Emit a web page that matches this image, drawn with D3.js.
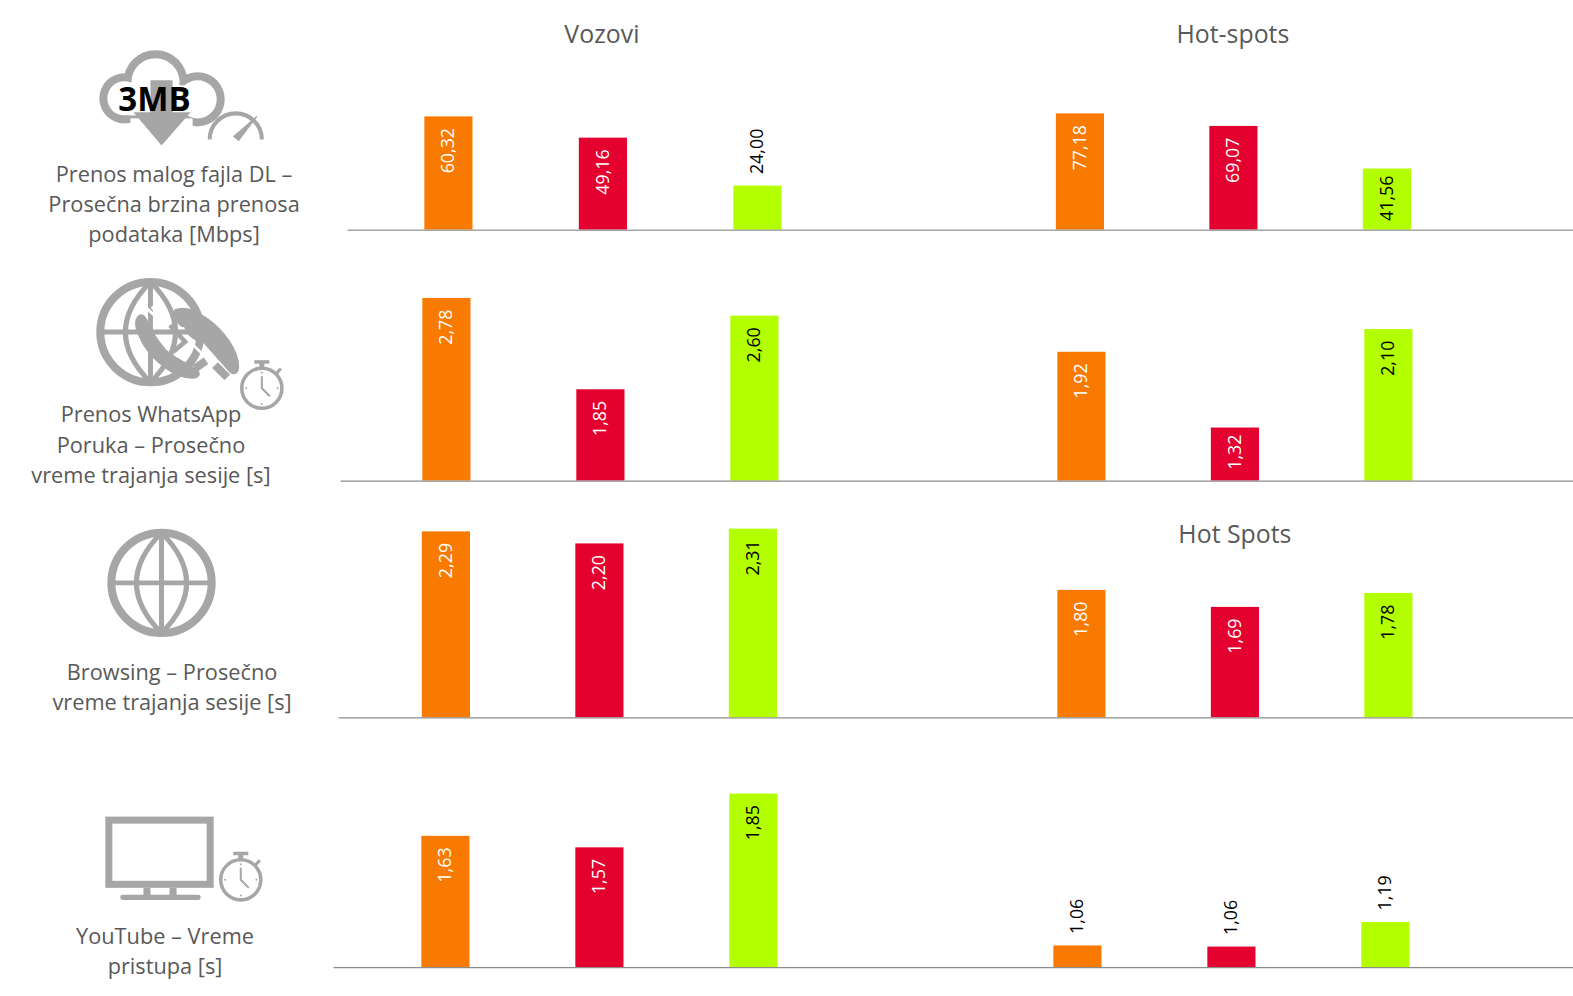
<!DOCTYPE html>
<html>
<head>
<meta charset="utf-8">
<script src="https://cdn.jsdelivr.net/npm/d3@7"></script>
<style>
  html, body { margin: 0; background: #fff; }
  svg { display: block; }
  text { font-family: "Open Sans", sans-serif; }
</style>
</head>
<body>
<svg id="chart" width="1573" height="996" viewBox="0 0 1568 992.8"></svg>
<script>
// values per panel: vozovi then hot-spots
const operators = ['orange', 'red', 'green'];
const operatorColors = ['#f97a00', '#e4002f', '#b3ff00'];
const labelColors = ['#fff', '#fff', '#000'];

const downloadVozovi = [60.32, 49.16, 24.00];
const downloadHotspots = [77.18, 69.07, 41.56];
const whatsappVozovi = [2.78, 1.85, 2.60];
const whatsappHotspots = [1.92, 1.32, 2.10];
const browsingVozovi = [2.29, 2.20, 2.31];
const browsingHotspots = [1.80, 1.69, 1.78];
const youtubeVozovi = [1.63, 1.57, 1.85];
const youtubeHotspots = [1.064, 1.058, 1.19];

// the value axes are hidden in the original, these are their ranges
const downloadDomains = [[0.85, 60.32], [2.05, 77.18]];
const whatsappDomains = [[0.92, 2.78], [0.9, 2.10]];
const browsingDomains = [[0.9, 2.31], [0.975, 1.80]];
const youtubeDomains = [[0.947, 1.85], [0.948, 1.19]];

const panelTexts = [
  { lines: ['Prenos malog fajla DL –', 'Prosečna brzina prenosa', 'podataka [Mbps]'], x: 173.5, y: 173.5 },
  { lines: ['Prenos WhatsApp', 'Poruka – Prosečno', 'vreme trajanja sesije [s]'], x: 150.5, y: 413.5 },
  { lines: ['Browsing – Prosečno', 'vreme trajanja sesije [s]'], x: 171.5, y: 670.5 },
  { lines: ['YouTube – Vreme', 'pristupa [s]'], x: 164.5, y: 933.5 },
];

const titles = [
  { text: 'Vozovi', x: 600, y: 34 },
  { text: 'Hot-spots', x: 1229, y: 34 },
  { text: 'Hot Spots', x: 1231, y: 533 },
];

// layout of each panel
const panels = [
  { base: 229, axisLeft: 346, axisColor: '#a6a6a6', tops: [116, 113], starts: [423, 1052.5], steps: [154, 153], values: [downloadVozovi, downloadHotspots], domains: downloadDomains },
  { base: 479, axisLeft: 339, axisColor: '#8c8c8c', tops: [297, 328], starts: [421, 1054], steps: [153.5, 153], values: [whatsappVozovi, whatsappHotspots], domains: whatsappDomains },
  { base: 715, axisLeft: 337, axisColor: '#8c8c8c', tops: [527, 588], starts: [420.5, 1054], steps: [153, 153], values: [browsingVozovi, browsingHotspots], domains: browsingDomains },
  { base: 964, axisLeft: 332, axisColor: '#8c8c8c', tops: [791, 919], starts: [420, 1050], steps: [153.5, 153.5], values: [youtubeVozovi, youtubeHotspots], domains: youtubeDomains },
];

const svg = d3.select('#chart');
const barWidth = 48;
const fmt = v => d3.format('.2f')(v).replace('.', ',');

panels.forEach(p => {
  const g = svg.append('g');

  p.values.forEach((vals, i) => {
    const pad = 1 - barWidth / p.steps[i];
    const left = p.starts[i] - pad / 2 * p.steps[i];
    const x = d3.scaleBand().domain(operators).range([left, left + 3 * p.steps[i]])
      .paddingInner(pad).paddingOuter(pad / 2);
    const y = d3.scaleLinear().domain(p.domains[i]).range([p.base, p.tops[i]]);
    const rows = vals.map((v, j) => ({ v, j, name: operators[j] }));

    g.selectAll(null).data(rows).enter().append('rect')
      .attr('x', d => x(d.name))
      .attr('y', d => y(d.v))
      .attr('width', x.bandwidth())
      .attr('height', d => p.base - y(d.v))
      .attr('fill', d => operatorColors[d.j]);

    g.selectAll(null).data(rows).enter().append('text')
      .attr('transform', d => {
        const h = p.base - y(d.v);
        // short bars keep the label closer to the top
        const ty = h >= 70 ? y(d.v) + 11.5 : h >= 50 ? y(d.v) + 7 : y(d.v) - 11.5;
        return `translate(${x(d.name) + x.bandwidth() / 2 + 6},${ty}) rotate(-90)`;
      })
      .attr('text-anchor', d => p.base - y(d.v) >= 50 ? 'end' : 'start')
      .attr('font-size', 17.8)
      .attr('fill', d => p.base - y(d.v) >= 50 ? labelColors[d.j] : '#000')
      .text(d => fmt(d.v));
  });

  const axisScale = d3.scaleLinear().range([p.axisLeft, 1568]);
  const axis = g.append('g').attr('transform', `translate(0,${p.base})`)
    .call(d3.axisBottom(axisScale).tickValues([]).tickSizeOuter(0));
  axis.select('.domain').attr('stroke', p.axisColor).attr('stroke-width', 1.3);
});

svg.selectAll(null).data(titles).enter().append('text')
  .attr('x', d => d.x).attr('y', d => d.y)
  .attr('dy', '0.35em')
  .attr('text-anchor', 'middle')
  .attr('font-size', 24.8)
  .attr('fill', '#595959')
  .text(d => d.text);

panelTexts.forEach(t => {
  svg.selectAll(null).data(t.lines).enter().append('text')
    .attr('x', t.x)
    .attr('y', (d, i) => t.y + i * 30)
    .attr('dy', '0.35em')
    .attr('text-anchor', 'middle')
    .attr('font-size', 21.7)
    .attr('fill', '#595959')
    .text(d => d);
});

// icons
const grey = '#a6a6a6';

function stopwatch(cx, cy, r) {
  const s = svg.append('g').attr('transform', `translate(${cx},${cy})`);
  s.append('circle').attr('r', r).attr('fill', '#fff').attr('stroke', grey).attr('stroke-width', 3.5);
  s.append('rect').attr('x', -2.5).attr('y', -r - 6).attr('width', 5).attr('height', 6).attr('fill', grey);
  s.append('rect').attr('x', -7.5).attr('y', -r - 8).attr('width', 15).attr('height', 3.5).attr('fill', grey);
  s.append('line').attr('x1', r * 0.7).attr('y1', -r * 0.7).attr('x2', r * 0.95).attr('y2', -r * 0.98)
    .attr('stroke', grey).attr('stroke-width', 3);
  s.append('path').attr('d', `M0,${-r * 0.6} V0 L${r * 0.4},${r * 0.4}`)
    .attr('fill', 'none').attr('stroke', grey).attr('stroke-width', 2);
  [[0, -0.78], [0, 0.78], [-0.78, 0], [0.78, 0]].forEach(o => {
    s.append('circle').attr('cx', o[0] * r).attr('cy', o[1] * r).attr('r', 1).attr('fill', grey);
  });
}

function globe(cx, cy, r, sw) {
  const s = svg.append('g').attr('transform', `translate(${cx},${cy})`)
    .attr('fill', 'none').attr('stroke', grey).attr('stroke-width', sw * 0.62);
  s.append('path').attr('d', `M0,${-r} Q${-r},0 0,${r} Q${r},0 0,${-r}`);
  s.append('line').attr('y1', -r).attr('y2', r);
  s.append('line').attr('x1', -r).attr('x2', r);
  s.append('circle').attr('r', r).attr('stroke-width', sw);
}

// cloud with arrow and gauge
const cloudLobes = [[124, 98, 25], [155, 82, 32], [197, 99, 27]];
svg.selectAll(null).data(cloudLobes).enter().append('circle')
  .attr('cx', d => d[0]).attr('cy', d => d[1]).attr('r', d => d[2]).attr('fill', grey);
svg.selectAll(null).data(cloudLobes).enter().append('circle')
  .attr('cx', d => d[0]).attr('cy', d => d[1]).attr('r', d => d[2] - 8).attr('fill', '#fff');
svg.append('rect').attr('x', 128).attr('y', 85).attr('width', 70).attr('height', 30).attr('fill', '#fff');
svg.append('rect').attr('x', 130).attr('y', 118).attr('width', 62).attr('height', 12).attr('fill', '#fff');
svg.append('path').attr('d', 'M150,80 H172 V112 H190 L161,145 L133,112 H150 Z').attr('fill', grey);
svg.append('text').attr('x', 154).attr('y', 111).attr('text-anchor', 'middle')
  .attr('font-size', 33).attr('font-weight', 700).attr('fill', '#000').text('3MB');
svg.append('path').attr('d', 'M209,139 A26,26 0 0 1 261,139')
  .attr('fill', 'none').attr('stroke', grey).attr('stroke-width', 4);
svg.append('path').attr('d', 'M233,136 L256,116 L238,140 Z').attr('fill', grey).attr('stroke', grey);

// globe and handset, drawn in the pixels of a 3x crop
globe(150, 331, 50, 8);
const handset = svg.append('g').attr('transform', 'translate(89.7,269.2) scale(0.3323)');
handset.append('path').attr('d', 'M185,110 L240,170 M300,215 L350,265')
  .attr('stroke', '#fff').attr('stroke-width', 8).attr('fill', 'none');
handset.append('path')
  .attr('d', 'M255,120 C290,105 330,130 350,145 C400,180 445,240 445,290 C445,310 430,315 420,305 L340,215 C320,215 290,195 285,170 C265,170 250,140 255,120 Z')
  .attr('fill', grey).attr('stroke', grey).attr('stroke-width', 5);
handset.append('path')
  .attr('d', 'M140,150 C150,125 165,135 175,165 C185,190 205,215 225,240 C250,265 290,280 320,300 C335,315 320,325 300,322 C250,320 190,270 160,220 C145,190 135,170 140,150 Z')
  .attr('fill', grey).attr('stroke', grey).attr('stroke-width', 7);
handset.append('path').attr('d', 'M240,165 L285,215 L250,245')
  .attr('stroke', grey).attr('stroke-width', 14).attr('fill', 'none');
handset.append('path').attr('d', 'M315,295 L348,272 M375,285 L412,322')
  .attr('stroke', grey).attr('stroke-width', 24).attr('fill', 'none');
handset.append('path').attr('d', 'M170,115 L230,168')
  .attr('stroke', '#fff').attr('stroke-width', 9).attr('fill', 'none');
stopwatch(261, 387, 20);

// browsing globe
globe(161, 581, 50, 8);

// tv
svg.append('rect').attr('x', 108.5).attr('y', 817.5).attr('width', 101).attr('height', 64)
  .attr('fill', 'none').attr('stroke', grey).attr('stroke-width', 7);
svg.append('rect').attr('x', 143).attr('y', 885).attr('width', 7).attr('height', 8).attr('fill', grey);
svg.append('rect').attr('x', 169).attr('y', 885).attr('width', 7).attr('height', 8).attr('fill', grey);
svg.append('rect').attr('x', 120).attr('y', 892).attr('width', 80).attr('height', 5).attr('rx', 2).attr('fill', grey);
stopwatch(240, 877, 20);
</script>
</body>
</html>
